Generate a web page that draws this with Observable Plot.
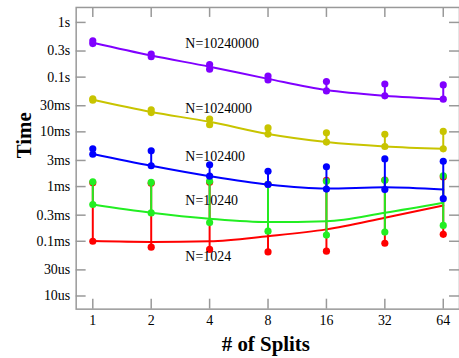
<!DOCTYPE html>
<html>
<head>
<meta charset="utf-8">
<script src="https://cdn.jsdelivr.net/npm/d3@7"></script>
<script src="https://cdn.jsdelivr.net/npm/@observablehq/plot@0.6"></script>
<style>
  html, body { margin: 0; padding: 0; background: #fff; overflow: hidden; }
  svg { display: block; }
  svg text { font-family: 'Liberation Serif', 'Times New Roman', serif; }
</style>
</head>
<body>
<div id="chart"></div>
<script>
// ---- data (times in seconds) ----
const splits = [1, 2, 4, 8, 16, 32, 64];
const seriesNames = ["N=1024", "N=10240", "N=102400", "N=1024000", "N=10240000"];
const seriesColors = ["#ff0000", "#22ee22", "#0000ff", "#c8c400", "#8000ff"];

const meanN1024 = [0.101e-3, 0.0975e-3, 0.1e-3, 0.124e-3, 0.165e-3, 0.269e-3, 0.45e-3];
const minN1024  = [0.1e-3, 0.078e-3, 0.071e-3, 0.064e-3, 0.066e-3, 0.092e-3, 0.134e-3];
const maxN1024  = [1.17e-3, 1.15e-3, 1.2e-3, 1.1e-3, 1.3e-3, 1.32e-3, 1.5e-3];

const meanN10240 = [0.47e-3, 0.332e-3, 0.258e-3, 0.224e-3, 0.233e-3, 0.332e-3, 0.505e-3];
const minN10240  = [0.47e-3, 0.33e-3, 0.22e-3, 0.153e-3, 0.13e-3, 0.147e-3, 0.195e-3];
const maxN10240  = [1.22e-3, 1.19e-3, 1.25e-3, 1.1e-3, 1.25e-3, 1.3e-3, 1.57e-3];

const meanN102400 = [3.95e-3, 2.4e-3, 1.55e-3, 1.09e-3, 0.92e-3, 0.97e-3, 0.88e-3];
const minN102400  = [3.9e-3, 2.4e-3, 1.55e-3, 1.09e-3, 0.9e-3, 0.88e-3, 0.6e-3];
const maxN102400  = [4.9e-3, 4.5e-3, 2.5e-3, 1.9e-3, 2.3e-3, 3.2e-3, 2.9e-3];

const meanN1024000 = [0.0385, 0.023, 0.0153, 0.0091, 0.0065, 0.0054, 0.0049];
const minN1024000  = [0.038, 0.0225, 0.0135, 0.0091, 0.0065, 0.0054, 0.0049];
const maxN1024000  = [0.040, 0.0253, 0.0172, 0.0118, 0.0096, 0.009, 0.0102];

const meanN10240000 = [0.425, 0.248, 0.155, 0.093, 0.058, 0.0455, 0.0395];
const minN10240000  = [0.41, 0.236, 0.14, 0.089, 0.056, 0.0455, 0.0395];
const maxN10240000  = [0.46, 0.265, 0.17, 0.105, 0.083, 0.075, 0.072];

const yTicks = [1, 0.3, 0.1, 0.03, 0.01, 0.003, 0.001, 0.0003, 0.0001, 0.00003, 0.00001];
const yTickLabels = ["1s", "0.3s", "0.1s", "30ms", "10ms", "3ms", "1ms", "0.3ms", "0.1ms", "30us", "10us"];
const xTickLabels = ["1", "2", "4", "8", "16", "32", "64"];

// series label anchors (x in splits, y in seconds)
const labelX = [3, 3, 3, 3, 3];
const labelY = [0.000052, 0.00056, 0.00356, 0.027, 0.414];

// ---- build tables ----
const means = [meanN1024, meanN10240, meanN102400, meanN1024000, meanN10240000];
const mins = [minN1024, minN10240, minN102400, minN1024000, minN10240000];
const maxs = [maxN1024, maxN10240, maxN102400, maxN1024000, maxN10240000];

const rows = [];
seriesNames.forEach((s, i) => {
  splits.forEach((x, j) => {
    rows.push({series: s, x, mean: means[i][j], min: mins[i][j], max: maxs[i][j]});
  });
});
const labels = seriesNames.map((s, i) => ({series: s, x: labelX[i], y: labelY[i]}));
const yTickRows = yTicks.map((t, i) => ({v: t, label: yTickLabels[i]}));
const xTickRows = splits.map((t, i) => ({v: t, label: xTickLabels[i]}));

const W = 461, H = 358, mL = 76, mR = 0, mT = 7, mB = 48;
const pw = W - mL - mR, ph = H - mT - mB;
const tickLen = 10;
const gray = "#999";
const serif = "'Liberation Serif', 'Times New Roman', serif";

const seriesMarks = [];
seriesNames.forEach((s) => {
  const d = rows.filter(r => r.series === s);
  seriesMarks.push(
    Plot.ruleX(d, {x: "x", y1: "min", y2: "max", stroke: "series", strokeWidth: 2}),
    Plot.lineY(d, {x: "x", y: "mean", stroke: "series", strokeWidth: 2, curve: "monotone-x"}),
    Plot.dot(d, {x: "x", y: "min", fill: "series", r: 3.6}),
    Plot.dot(d, {x: "x", y: "max", fill: "series", r: 3.6})
  );
});

const chart = Plot.plot({
  width: W, height: H,
  marginLeft: mL, marginRight: mR, marginTop: mT, marginBottom: mB,
  style: {fontFamily: serif, fontSize: "14px", background: "#fff", color: "#000"},
  x: {type: "log", base: 2, domain: [0.821, 77.6], axis: null},
  y: {type: "log", domain: [5.75e-6, 1.876], axis: null},
  color: {domain: seriesNames, range: seriesColors},
  marks: [
    Plot.frame({stroke: gray, strokeWidth: 1.5}),
    Plot.ruleY(yTicks, {y: d => d, insetRight: pw - tickLen, stroke: gray, strokeWidth: 1.5}),
    Plot.ruleY(yTicks, {y: d => d, insetLeft: pw - tickLen, stroke: gray, strokeWidth: 1.5}),
    Plot.ruleX(splits, {x: d => d, insetTop: ph - tickLen, stroke: gray, strokeWidth: 1.5}),
    Plot.ruleX(splits, {x: d => d, insetBottom: ph - tickLen, stroke: gray, strokeWidth: 1.5}),
    Plot.text(yTickRows, {y: "v", text: "label", frameAnchor: "left", dx: -6, textAnchor: "end", fontSize: 14, fontFamily: serif, fill: "#000"}),
    Plot.text(xTickRows, {x: "v", text: "label", frameAnchor: "bottom", dy: 11, lineAnchor: "middle", fontSize: 14, fontFamily: serif, fill: "#000"}),
    ...seriesMarks,
    Plot.text(labels, {x: "x", y: "y", text: "series", textAnchor: "start", fontSize: 14, fontFamily: serif, fill: "#000"}),
    Plot.text(["# of Splits"], {frameAnchor: "bottom", dy: 35, dx: -2, lineAnchor: "middle", fontSize: 21, fontWeight: "bold", fontFamily: serif, fill: "#000"}),
    Plot.text(["Time"], {frameAnchor: "left", dx: -52, rotate: -90, lineAnchor: "middle", fontSize: 21, fontWeight: "bold", fontFamily: serif, fill: "#000"})
  ]
});
document.getElementById("chart").appendChild(chart);
</script>
</body>
</html>
